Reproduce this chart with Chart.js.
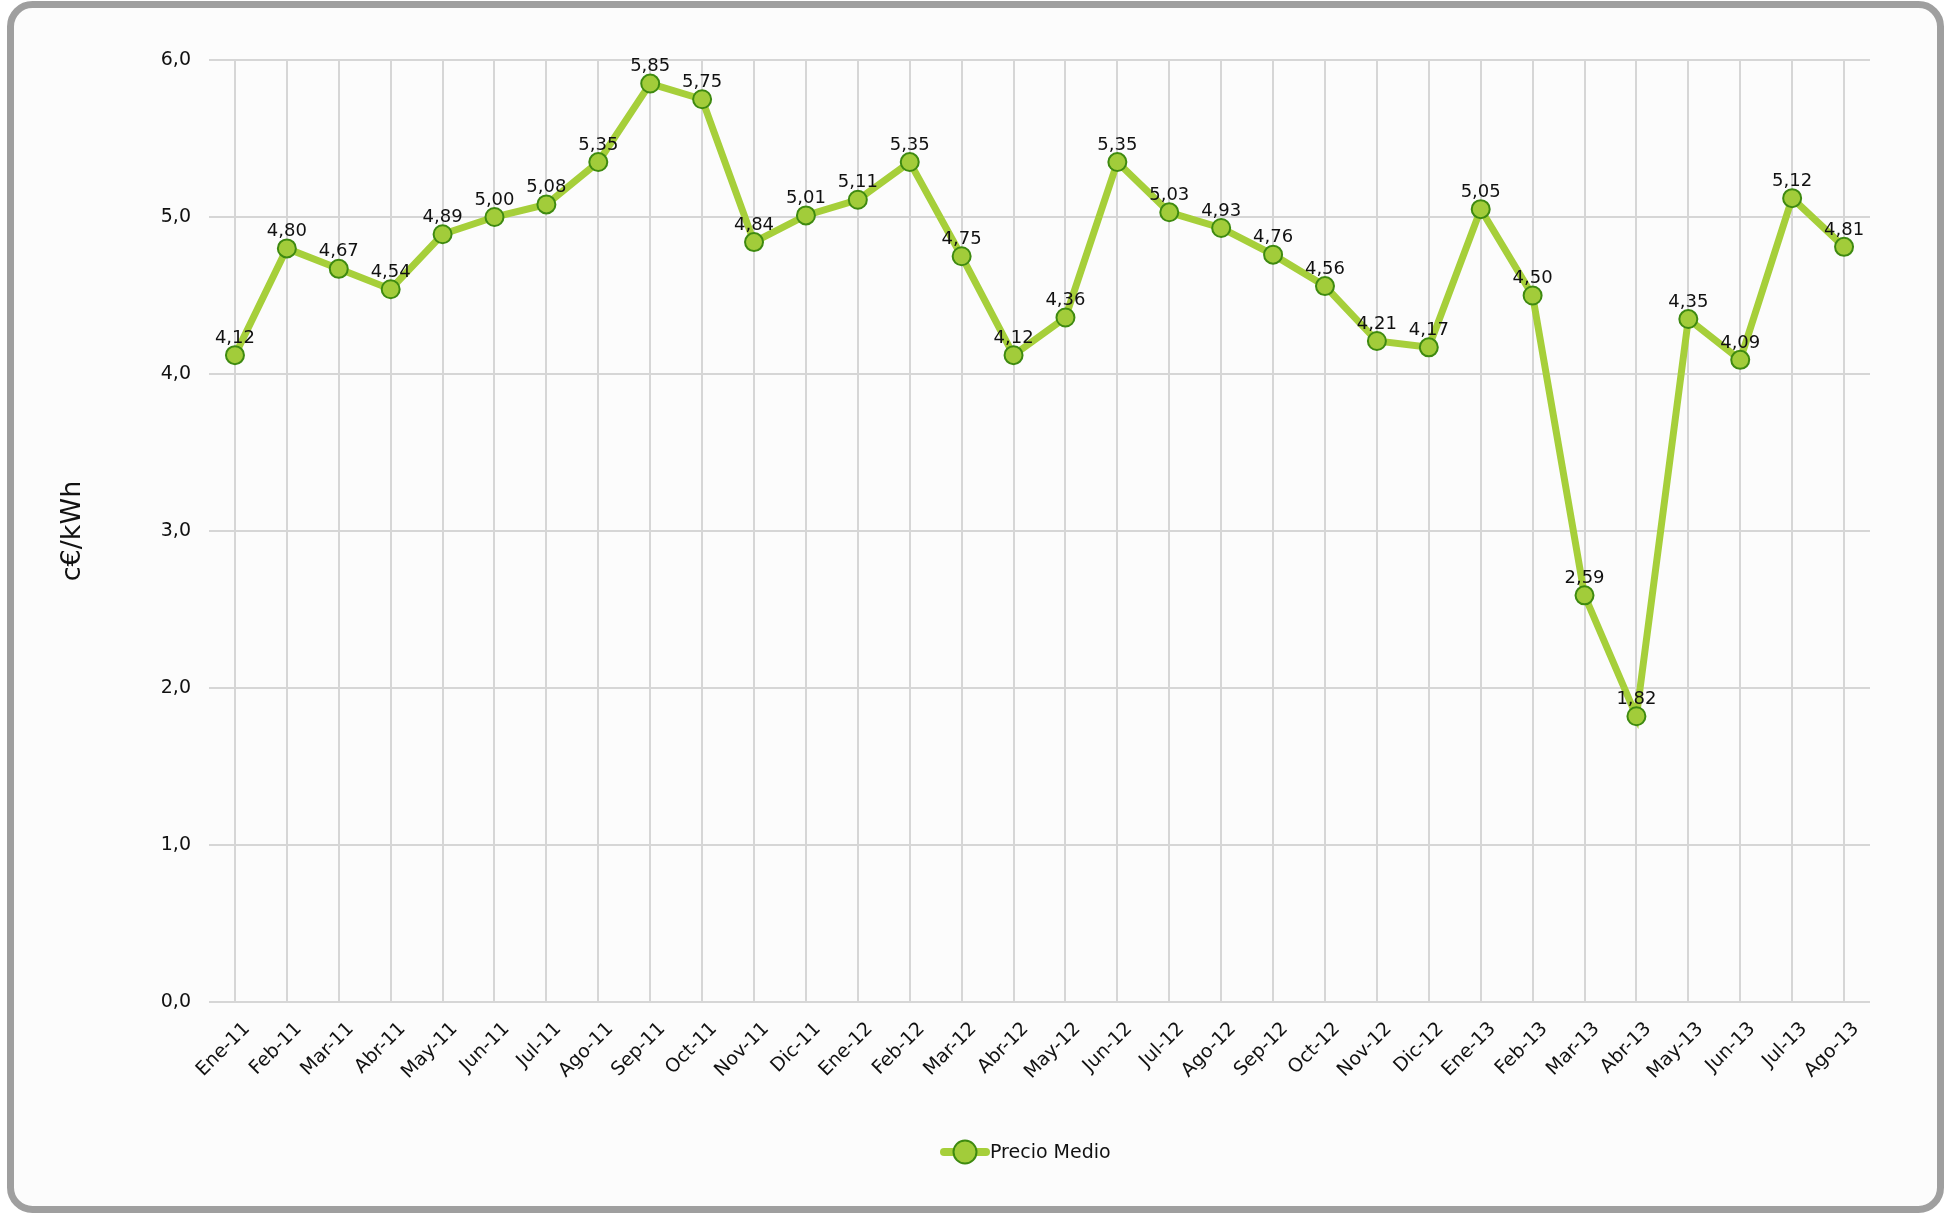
<!DOCTYPE html>
<html>
<head>
<meta charset="utf-8">
<title>Precio Medio</title>
<script src="https://cdn.jsdelivr.net/npm/chart.js@4"></script>
<style>
  html, body { margin: 0; padding: 0; background: #ffffff; }
  #wrap { width: 1952px; height: 1215px; }
</style>
</head>
<body>
<div id="wrap"><canvas id="precio-chart" width="1952" height="1215"></canvas></div>
<script>
const meses = [
    'Ene-11', 'Feb-11', 'Mar-11', 'Abr-11', 'May-11', 'Jun-11', 'Jul-11', 'Ago-11',
    'Sep-11', 'Oct-11', 'Nov-11', 'Dic-11',
    'Ene-12', 'Feb-12', 'Mar-12', 'Abr-12', 'May-12', 'Jun-12', 'Jul-12', 'Ago-12',
    'Sep-12', 'Oct-12', 'Nov-12', 'Dic-12',
    'Ene-13', 'Feb-13', 'Mar-13', 'Abr-13', 'May-13', 'Jun-13', 'Jul-13', 'Ago-13'
];

const precioMedio = [
    4.12, 4.80, 4.67, 4.54, 4.89, 5.00, 5.08, 5.35,
    5.85, 5.75, 4.84, 5.01,
    5.11, 5.35, 4.75, 4.12, 4.36, 5.35, 5.03, 4.93,
    4.76, 4.56, 4.21, 4.17,
    5.05, 4.50, 2.59, 1.82, 4.35, 4.09, 5.12, 4.81
];

const serieNombre = 'Precio Medio';
const ejeY = 'c€/kWh';

const verdeLinea = '#a6cf3a';
const verdePunto = '#a2cc3a';
const verdeBorde = '#3e8a10';
const fuente = '"DejaVu Sans", Verdana, sans-serif';

// formato español: coma decimal
function coma(v, dec) {
    return v.toFixed(dec).replace('.', ',');
}

// marco redondeado y fondo
const marco = {
    id: 'marco',
    beforeDraw(chart) {
        const ctx = chart.ctx;
        ctx.save();
        ctx.fillStyle = '#ffffff';
        ctx.fillRect(0, 0, chart.width, chart.height);
        ctx.beginPath();
        ctx.roundRect(10.5, 4.5, 1930, 1205, 22);
        ctx.fillStyle = '#fcfcfc';
        ctx.fill();
        ctx.lineWidth = 7;
        ctx.strokeStyle = '#9f9f9f';
        ctx.stroke();
        ctx.restore();
    }
};

// etiquetas con el valor encima de cada punto
const etiquetas = {
    id: 'etiquetas',
    afterDatasetsDraw(chart) {
        const ctx = chart.ctx;
        const meta = chart.getDatasetMeta(0);
        ctx.save();
        ctx.font = '18px ' + fuente;
        ctx.fillStyle = '#111111';
        ctx.textAlign = 'center';
        ctx.textBaseline = 'bottom';
        meta.data.forEach((p, i) => {
            ctx.fillText(coma(precioMedio[i], 2), p.x, p.y - 8);
        });
        ctx.restore();
    }
};

// leyenda abajo: trazo con circulo y nombre de la serie
const leyenda = {
    id: 'leyenda',
    afterDraw(chart) {
        const ctx = chart.ctx;
        const y = 1152;
        ctx.save();
        ctx.lineCap = 'round';
        ctx.lineWidth = 8;
        ctx.strokeStyle = verdeLinea;
        ctx.beginPath();
        ctx.moveTo(944, y);
        ctx.lineTo(986, y);
        ctx.stroke();
        ctx.beginPath();
        ctx.arc(965, y, 11.5, 0, Math.PI * 2);
        ctx.fillStyle = verdePunto;
        ctx.fill();
        ctx.lineWidth = 2;
        ctx.strokeStyle = verdeBorde;
        ctx.stroke();
        ctx.font = '19px ' + fuente;
        ctx.fillStyle = '#111111';
        ctx.textAlign = 'left';
        ctx.textBaseline = 'middle';
        ctx.fillText(serieNombre, 990, y + 1);
        ctx.restore();
    }
};

new Chart(document.querySelector('#precio-chart').getContext('2d'), {
    type: 'line',
    data: {
        labels: meses,
        datasets: [{
            label: serieNombre,
            data: precioMedio,
            borderColor: verdeLinea,
            borderWidth: 7,
            backgroundColor: verdePunto,
            pointBackgroundColor: verdePunto,
            pointBorderColor: verdeBorde,
            pointBorderWidth: 2,
            pointRadius: 9,
            tension: 0,
            fill: false
        }]
    },
    options: {
        responsive: false,
        animation: false,
        layout: {
            padding: { top: 60, right: 82, bottom: 82, left: 0 }
        },
        plugins: {
            legend: { display: false },
            tooltip: { enabled: false }
        },
        scales: {
            x: {
                offset: true,
                border: { display: false },
                grid: { color: '#d6d6d6', lineWidth: 2, drawTicks: false, offset: false },
                ticks: {
                    color: '#111111',
                    font: { family: fuente, size: 19 },
                    minRotation: 45,
                    maxRotation: 45,
                    autoSkip: false,
                    padding: 16,
                    labelOffset: 12
                },
                afterFit(scale) { scale.height = 131; }
            },
            y: {
                min: 0,
                max: 6,
                border: { display: false },
                grid: { color: '#d6d6d6', lineWidth: 2, drawTicks: false },
                ticks: {
                    stepSize: 1,
                    color: '#111111',
                    font: { family: fuente, size: 19 },
                    padding: 18,
                    callback: v => coma(v, 1)
                },
                title: {
                    display: true,
                    text: ejeY,
                    color: '#111111',
                    font: { family: fuente, size: 27 },
                    padding: { top: 57, bottom: 0 }
                },
                afterFit(scale) { scale.width = 209; }
            }
        }
    },
    plugins: [marco, etiquetas, leyenda]
});
</script>
</body>
</html>
